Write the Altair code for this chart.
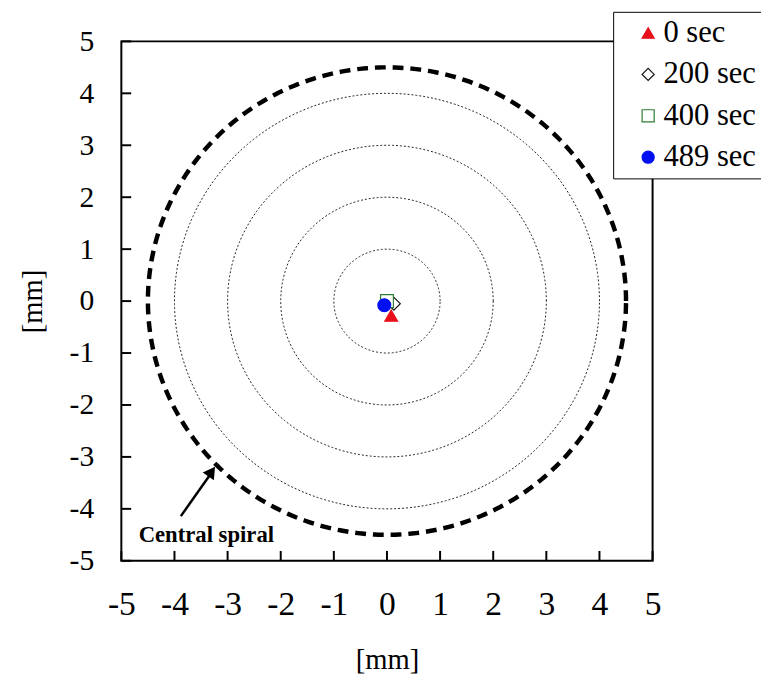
import altair as alt
import numpy as np
import pandas as pd

# ---- data ----
labels = ["0 sec", "200 sec", "400 sec", "489 sec"]
pos_x = [0.08, 0.13, 0.0, -0.05]
pos_y = [-0.28, -0.05, 0.0, -0.08]
shapes = ["triangle-up", "diamond", "square", "circle"]
strokes = ["#e8101a", "#111111", "#2e7d32", "#0010f0"]
fills = ["#e8101a", "#ffffff", "#ffffff", "#0010f0"]

dotted_radii = [1, 2, 3, 4]
spiral_radius = [4.5]
tick_values = [-5, -4, -3, -2, -1, 0, 1, 2, 3, 4, 5]

note_text = ["Central spiral"]
note_x = [-3.4]
note_y = [-4.5]
arrow_x = [-3.88, -3.3]
arrow_y = [-4.14, -3.3]

W, H = 539, 527
dom = [-5, 5]
SERIF = "Liberation Serif"
SERIF_STACK = "Liberation Serif, Times New Roman, serif"

# circle outlines built from the radii
theta = np.linspace(0, 2 * np.pi, 361)
rows = []
for r in dotted_radii:
    for i, t in enumerate(theta):
        rows.append({"r": r, "i": i, "x": r * np.cos(t), "y": r * np.sin(t)})
dotted_df = pd.DataFrame(rows)
rows = []
for r in spiral_radius:
    for i, t in enumerate(theta):
        rows.append({"r": r, "i": i, "x": r * np.cos(t), "y": r * np.sin(t)})
spiral_df = pd.DataFrame(rows)

pts_df = pd.DataFrame({"label": labels, "x": pos_x, "y": pos_y})
ticks_df = pd.DataFrame({"v": tick_values})
note_df = pd.DataFrame({"t": note_text, "x": note_x, "y": note_y})
arrow_df = pd.DataFrame({"x": arrow_x, "y": arrow_y, "o": [0, 1]})
head_df = pd.DataFrame({"x": [arrow_x[1]], "y": [arrow_y[1] + 0.02]})

xs = alt.Scale(domain=dom, nice=False, zero=False)
ys = alt.Scale(domain=dom, nice=False, zero=False)

xaxis = alt.Axis(values=tick_values, title="[mm]", ticks=False, domain=False, grid=False,
                 labelExpr="'' + datum.value",
                 labelFont=SERIF, labelFontSize=34, labelColor="black",
                 labelPadding=28, labelFlush=False,
                 titleFont=SERIF, titleFontSize=29, titleFontWeight="normal",
                 titleColor="black", titlePadding=24)
yaxis = alt.Axis(values=tick_values, title="[mm]", ticks=False, domain=False, grid=False,
                 labelExpr="'' + datum.value",
                 labelFont=SERIF, labelFontSize=30, labelColor="black",
                 labelPadding=28, labelFlush=False,
                 titleFont=SERIF, titleFontSize=29, titleFontWeight="normal",
                 titleColor="black", titlePadding=22)

dotted = alt.Chart(dotted_df).mark_line(color="#222222", strokeWidth=1, strokeDash=[2, 2]).encode(
    x=alt.X("x:Q", scale=xs, axis=xaxis),
    y=alt.Y("y:Q", scale=ys, axis=yaxis),
    detail="r:N",
    order="i:Q",
)

spiral = alt.Chart(spiral_df).mark_line(color="black", strokeWidth=4.5, strokeDash=[11, 7]).encode(
    x=alt.X("x:Q", scale=xs), y=alt.Y("y:Q", scale=ys), detail="r:N", order="i:Q"
)

xticks = alt.Chart(ticks_df).mark_rule(color="black", strokeWidth=2).encode(
    x=alt.X("v:Q", scale=xs), y=alt.value(H), y2=alt.value(H - 10)
)
yticks = alt.Chart(ticks_df).mark_rule(color="black", strokeWidth=2).encode(
    y=alt.Y("v:Q", scale=ys), x=alt.value(0), x2=alt.value(10)
)

legend = alt.Legend(title=None, orient="none", legendX=499, legendY=-30,
                    labelFont=SERIF_STACK, labelFontSize=31, labelColor="black",
                    fillColor="white", strokeColor="black", padding=6,
                    symbolSize=150, symbolStrokeWidth=1.2, symbolOffset=14,
                    labelOffset=0, rowPadding=10, labelLimit=300)

points = alt.Chart(pts_df).mark_point(size=170, strokeWidth=1.2, opacity=1).encode(
    x=alt.X("x:Q", scale=xs),
    y=alt.Y("y:Q", scale=ys),
    shape=alt.Shape("label:N", scale=alt.Scale(domain=labels, range=shapes), legend=legend),
    stroke=alt.Stroke("label:N", scale=alt.Scale(domain=labels, range=strokes), legend=legend),
    fill=alt.Fill("label:N", scale=alt.Scale(domain=labels, range=fills), legend=legend),
    order=alt.Order("label:N"),
)

note = alt.Chart(note_df).mark_text(font=SERIF, fontSize=23, fontWeight="bold",
                                    color="black").encode(
    x=alt.X("x:Q", scale=xs), y=alt.Y("y:Q", scale=ys), text="t:N"
)

arrow = alt.Chart(arrow_df).mark_line(color="black", strokeWidth=2.5).encode(
    x=alt.X("x:Q", scale=xs), y=alt.Y("y:Q", scale=ys), order="o:Q"
)
head = alt.Chart(head_df).mark_point(shape="triangle-up", filled=True, color="black",
                                     size=190, angle=35, opacity=1).encode(
    x=alt.X("x:Q", scale=xs), y=alt.Y("y:Q", scale=ys)
)

chart = alt.layer(dotted, spiral, xticks, yticks, arrow, head, note, points).properties(
    width=W, height=H,
    background="white",
    autosize=alt.AutoSizeParams(type="none"),
    padding={"left": 115, "top": 29, "right": 110, "bottom": 111},
).configure(
    font=SERIF_STACK,
    style={"guide-label": {"font": SERIF_STACK}},
).configure_view(
    stroke="black", strokeWidth=2
).configure_legend(
    labelFont=SERIF_STACK, labelFontSize=31, labelColor="black"
)

chart.save("out.html", embed_options={"renderer": "svg", "actions": False})
